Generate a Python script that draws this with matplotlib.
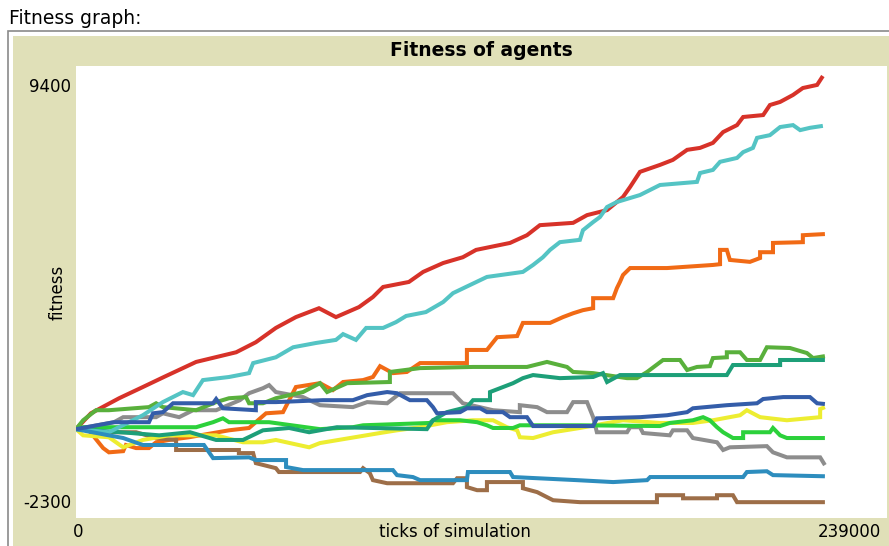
import matplotlib
matplotlib.use("Agg")
import matplotlib.pyplot as plt
from matplotlib.patches import Rectangle

W, H = 889, 546

x_min, x_max = 0, 239000
y_min, y_max = -2300, 9400

title = "Fitness of agents"
x_label = "ticks of simulation"
y_label = "fitness"
outer_label = "Fitness graph:"

red_t = [0, 4400, 12700, 19700, 25900, 35400, 47200, 53000, 58900, 64800, 71600, 76600, 83400, 87500, 90500,
         98100, 102300, 108200, 114000, 117900, 127900, 132900, 136700, 146500, 150600, 156500, 161200, 163300,
         166200, 172100, 175900, 180100, 183900, 187700, 190700, 194800, 196600, 202500, 204500, 207500, 211300,
         214200, 218400, 220100]
red_v = [0, 410, 800, 1090, 1350, 1740, 1990, 2250, 2620, 2900, 3130, 2900, 3160, 3420, 3680,
         3810, 4070, 4300, 4450, 4640, 4820, 5020, 5280, 5340, 5540, 5670, 6010, 6270,
         6660, 6840, 6970, 7230, 7280, 7410, 7690, 7870, 8080, 8130, 8390, 8470, 8650,
         8830, 8910, 9140]

cyan_t = [0, 9700, 19700, 25600, 31500, 34500, 37400, 45100, 51000, 52200, 58900, 64000, 70700, 76600, 78700,
          82500, 85500, 90500, 94300, 97300, 103100, 108200, 111100, 114900, 121100, 131700, 134700, 137600,
          139700, 142600, 148500, 149400, 152400, 154400, 156500, 159400, 166200, 172100, 183000, 183900,
          187700, 189800, 194800, 196600, 199500, 200700, 204500, 207500, 211300, 213400, 216300, 220100]
cyan_v = [0, -80, 360, 700, 960, 880, 1270, 1350, 1450, 1710, 1860, 2120, 2230, 2310, 2460,
          2310, 2620, 2620, 2770, 2930, 3030, 3290, 3520, 3680, 3940, 4070, 4250, 4450,
          4640, 4840, 4900, 5150, 5360, 5490, 5750, 5880, 6060, 6320, 6400, 6630,
          6710, 6920, 7020, 7170, 7280, 7540, 7610, 7820, 7870, 7740, 7800, 7850]

orange_t = [0, 3800, 6800, 8000, 9700, 13900, 14700, 17700, 21500, 23600, 27400, 33300, 45100, 51000, 56000,
            61000, 64800, 71900, 75700, 78700, 84600, 87500, 89600, 93400, 97500, 101400, 115200, 115200,
            121100, 124100, 130000, 131700, 139700, 143500, 146500, 149400, 152400, 152400, 158300, 159400,
            160300, 161200, 163300, 174200, 187700, 189800, 189800, 191800, 192700, 198600, 201600, 201600,
            205400, 205400, 214200, 214200, 220700]
orange_v = [0, -30, -360, -490, -600, -570, -410, -490, -490, -340, -280, -210, -30, 30, 410,
            440, 1090, 1190, 1010, 1220, 1270, 1350, 1630, 1450, 1480, 1710, 1710, 2050,
            2050, 2380, 2410, 2750, 2750, 2900, 3000, 3080, 3130, 3390, 3390, 3650,
            3810, 3990, 4170, 4170, 4250, 4270, 4640, 4640, 4380, 4330, 4430, 4580,
            4580, 4820, 4840, 5020, 5050]

green_t = [0, 2100, 5900, 9700, 21500, 23600, 25600, 35400, 41300, 45100, 50100, 51000, 55100, 58900, 66900,
           71900, 74000, 79900, 92500, 92500, 101400, 117000, 125800, 132900, 138800, 144700, 146500, 152400,
           162400, 165300, 168300, 173000, 178000, 180100, 183000, 186800, 187700, 191800, 191800, 195700,
           197700, 201600, 203600, 210400, 215400, 217200, 220700]
green_v = [0, 230, 490, 490, 570, 670, 570, 490, 700, 800, 830, 670, 670, 800, 960,
           1190, 960, 1190, 1220, 1480, 1580, 1610, 1610, 1610, 1740, 1610, 1480, 1450,
           1320, 1320, 1480, 1790, 1790, 1530, 1610, 1630, 1840, 1860, 1990, 1990,
           1790, 1790, 2120, 2100, 1970, 1840, 1890]

turquoise_t = [0, 16200, 24500, 33600, 41300, 49200, 55100, 62800, 68700, 76900, 103400, 105200, 109300, 115200,
               117000, 122000, 122000, 128800, 131700, 134700, 142600, 152400, 155300, 156500, 160300, 191800,
               193600, 207500, 207500, 220700]
turquoise_v = [0, -100, -160, -80, -280, -280, -30, 30, -80, 50, 0, 230, 440, 570,
               750, 750, 960, 1190, 1320, 1400, 1320, 1350, 1450, 1220, 1400, 1400,
               1660, 1660, 1790, 1790]

blue_t = [0, 11200, 21500, 22700, 25600, 28600, 40400, 41300, 43300, 53000, 53000, 58900, 72800, 81600, 85800,
          91700, 94600, 98400, 103400, 105200, 106400, 113200, 115200, 119100, 121100, 125800, 127900, 132900,
          134700, 152400, 153500, 166200, 174200, 180100, 181800, 191800, 200700, 202500, 208400, 216300,
          218400, 220700]
blue_v = [0, 180, 180, 410, 440, 670, 670, 780, 540, 490, 700, 700, 750, 750, 880,
          960, 930, 750, 750, 570, 410, 440, 540, 540, 440, 440, 310, 310,
          80, 80, 280, 310, 360, 440, 540, 620, 670, 780, 830, 830,
          670, 650]

yellow_t = [0, 2100, 9700, 13900, 19700, 27400, 41300, 49200, 55100, 58900, 68700, 71900, 89600, 94600, 101400,
            109300, 117000, 122900, 127000, 130000, 130800, 134700, 140600, 148500, 161200, 172100, 181800,
            187700, 195700, 197700, 201600, 209500, 219300, 219300, 220700]
yellow_v = [0, -160, -210, -470, -280, -160, -160, -340, -340, -280, -470, -360, -100, -30, 50,
            180, 230, 230, 50, -30, -210, -230, -80, 30, 230, 160, 160,
            230, 360, 490, 310, 230, 310, 520, 570]

lime_t = [0, 2100, 35400, 40400, 43300, 45100, 56900, 71900, 81600, 84600, 104300, 105200, 113200, 118200,
          121100, 122900, 128800, 130800, 148500, 172100, 175000, 181800, 184800, 186800, 188900, 190700,
          193600, 196600, 196600, 204500, 205400, 207500, 209500, 220700]
lime_v = [0, 50, 50, 180, 280, 180, 180, 0, 50, 100, 160, 230, 230, 180,
          100, 30, 30, 100, 100, 80, 160, 230, 310, 230, 50, -80,
          -230, -230, -80, -80, 30, -160, -230, -230]

gray_t = [0, 11200, 13900, 23600, 25600, 30400, 34500, 41300, 48300, 51000, 55100, 56900, 58900, 66900, 71900,
          81600, 85800, 91700, 95500, 111100, 114000, 122900, 130800, 130800, 135900, 138800, 144700, 146500,
          150600, 152400, 153500, 162400, 163300, 166200, 167100, 175000, 175900, 180100, 181800, 188900,
          190700, 192700, 203600, 205400, 209500, 219300, 220700]
gray_v = [0, 180, 310, 310, 410, 310, 490, 490, 750, 930, 1060, 1140, 960, 830, 620,
          570, 700, 670, 930, 930, 670, 490, 440, 620, 570, 440, 440, 700,
          700, 310, -80, -80, 50, 50, -100, -160, -30, -30, -230, -340,
          -540, -470, -440, -600, -730, -730, -930]

sky_t = [0, 13900, 19700, 37700, 40400, 51000, 53000, 61900, 61900, 66900, 93400, 94600, 99300, 101400, 115200,
         115500, 127900, 128800, 147600, 158300, 168300, 169200, 196600, 197700, 203600, 205400, 220700]
sky_v = [0, -230, -410, -410, -750, -730, -800, -800, -980, -1060, -1060, -1190, -1240, -1320, -1320,
         -1110, -1110, -1240, -1320, -1370, -1320, -1240, -1240, -1110, -1090, -1190, -1220]

brown_t = [0, 9700, 17700, 23600, 29500, 29500, 48000, 48000, 52200, 53000, 58900, 59800, 83700, 84600, 86600,
           87500, 91700, 111100, 112300, 115200, 115200, 118200, 121100, 121100, 131700, 131700, 135900,
           138800, 140600, 148500, 171200, 171200, 178900, 178900, 188900, 188900, 193600, 194800, 220700]
brown_v = [0, -80, -80, -230, -280, -540, -540, -620, -620, -880, -1010, -1110, -1110, -1010, -1140,
           -1320, -1400, -1400, -1270, -1270, -1500, -1580, -1580, -1370, -1370, -1530, -1630,
           -1760, -1840, -1890, -1890, -1710, -1710, -1790, -1790, -1710, -1710, -1890, -1890]

series = [
    (gray_t, gray_v, "#8d8d8d"),
    (red_t, red_v, "#d73229"),
    (orange_t, orange_v, "#f16a15"),
    (brown_t, brown_v, "#9d6e48"),
    (yellow_t, yellow_v, "#eded31"),
    (green_t, green_v, "#59b03c"),
    (lime_t, lime_v, "#2cd13b"),
    (turquoise_t, turquoise_v, "#1d9f78"),
    (cyan_t, cyan_v, "#54c4c4"),
    (sky_t, sky_v, "#2d8dbe"),
    (blue_t, blue_v, "#345da9"),
]

fig = plt.figure(figsize=(W / 100, H / 100), dpi=100)
fig.patch.set_facecolor("white")

def fx(px):
    return px / W

def fy(py):
    return 1 - py / H

# outer frame and beige panel (behind the axes)
fig.add_artist(Rectangle((fx(8), fy(H + 5)), fx(W + 10 - 8), (H + 5 - 31) / H,
                         transform=fig.transFigure, facecolor="white", edgecolor="#8a8a8a", lw=1.2,
                         zorder=-3))
fig.add_artist(Rectangle((fx(13), fy(H + 5)), fx(W + 10 - 13), (H + 5 - 36) / H,
                         transform=fig.transFigure, facecolor="#e0e0b8", edgecolor="none", zorder=-2))

fig.text(fx(9), fy(18), outer_label, ha="left", va="center", fontsize=13.5, color="black")
fig.text(fx(481), fy(50), title, ha="center", va="center", fontsize=13.5, fontweight="bold", color="black")

ax = fig.add_axes([fx(76), fy(518), (887 - 76) / W, (518 - 66) / H])
ax.set_facecolor("white")
for t, v, c in series:
    ax.plot(t, v, color=c, lw=2.9, solid_capstyle="butt", solid_joinstyle="miter")
ax.set_xlim(x_min, x_max)
ax.set_ylim(y_min, y_max)
ax.set_xticks([])
ax.set_yticks([])
for s in ax.spines.values():
    s.set_visible(False)

lab_fs = 12
fig.text(fx(71), fy(87), f"{y_max}", ha="right", va="center", fontsize=lab_fs)
fig.text(fx(71), fy(503), f"{y_min}", ha="right", va="center", fontsize=lab_fs)
fig.text(fx(78), fy(532), f"{x_min}", ha="center", va="center", fontsize=lab_fs)
fig.text(fx(881), fy(532), f"{x_max}", ha="right", va="center", fontsize=lab_fs)
fig.text(fx(455), fy(532), x_label, ha="center", va="center", fontsize=lab_fs)
fig.text(fx(58), fy(292), y_label, ha="center", va="center", rotation=90, fontsize=lab_fs)

fig.savefig("out.png", dpi=100)
